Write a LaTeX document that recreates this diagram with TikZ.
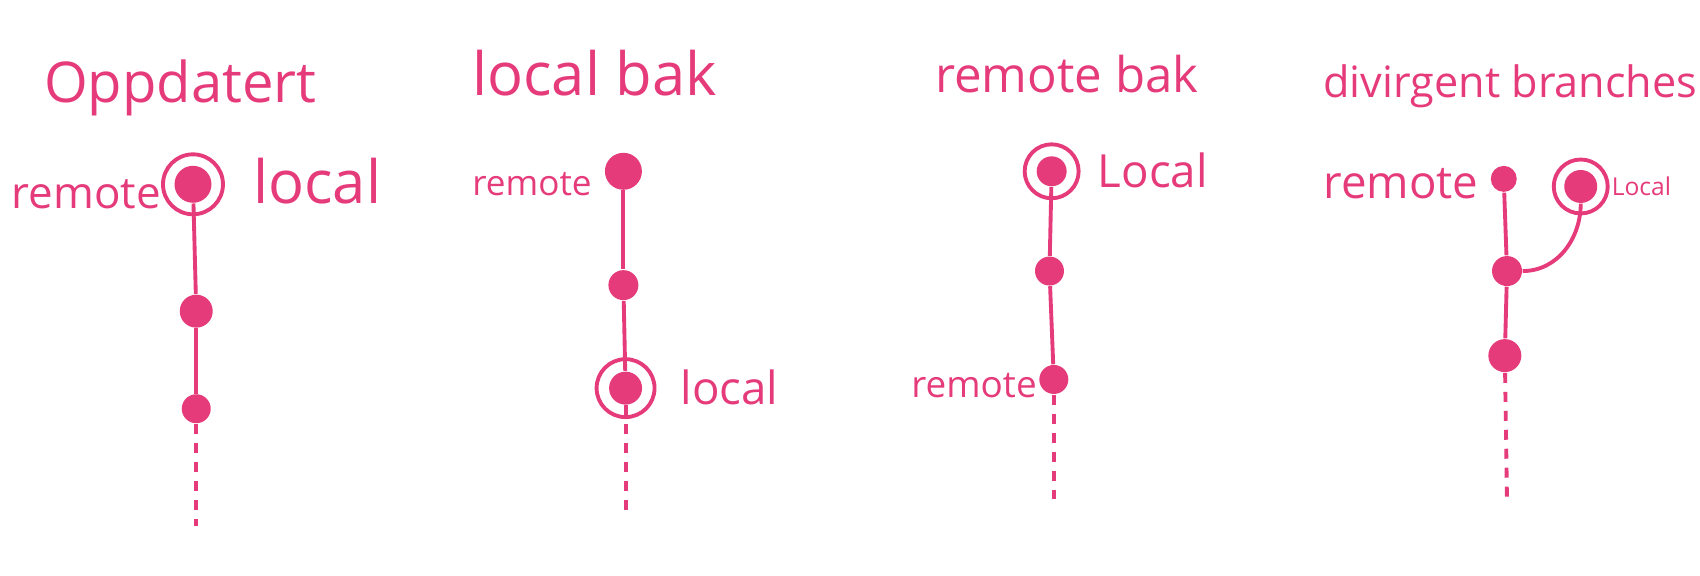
\documentclass[tikz,border=0pt]{standalone}
\usepackage{fontspec}
\setmainfont{Open Sans}
\usepackage{xcolor}
\usepackage{tikz}
\usetikzlibrary{arrows.meta, positioning}

\definecolor{inkpink}{RGB}{230,59,122}

\begin{document}
\begin{tikzpicture}[
    x=0.010842cm, y=-0.010842cm,
    commit/.style={
        circle,
        fill=inkpink,
        inner sep=0pt,
        minimum size=0.33cm
    },
    headring/.style={
        circle,
        draw=inkpink,
        line width=1.1pt,
        inner sep=0pt,
        minimum size=0.6cm
    },
    title/.style={
        anchor=base west,
        text=inkpink,
        inner sep=0pt,
        font=\fontsize{16}{19}\selectfont
    },
    tag/.style={
        anchor=base west,
        text=inkpink,
        inner sep=0pt,
        font=\fontsize{13}{15}\selectfont
    },
    link/.style={draw=inkpink, line width=1.1pt},
    tail/.style={draw=inkpink, line width=1.1pt, dash pattern=on 0.1cm off 0.09cm}
]

\useasboundingbox (0,0) rectangle (1568,531);

% --- Oppdatert ---
\node[title] (t1) at (40,95) {Oppdatert};
\node[commit, minimum size=0.37cm] (a1) at (178,170) {};
\node[headring] (a1ring) at (178,170) {};
\node[commit] (a2) at (181,287) {};
\node[commit, minimum size=0.29cm] (a3) at (181,377) {};
\coordinate (a4) at (181,485);
\node[tag, font=\fontsize{12.5}{15}\selectfont] (a1r) at (10,192) {remote};
\node[tag, font=\fontsize{17}{19}\selectfont] (a1l) at (233,188) {local};

\draw[link] (a1) -- (a2);
\draw[link] (a2) -- (a3);
\draw[tail] (a3) -- (a4);

% --- local bak ---
\node[title, font=\fontsize{17}{20}\selectfont] (t2) at (435,88) {local bak};
\node[commit, minimum size=0.37cm] (b1) at (575,158) {};
\node[commit, minimum size=0.3cm] (b2) at (575,263) {};
\node[commit] (b3) at (577,358) {};
\node[headring, minimum size=0.58cm] (b3ring) at (577,358) {};
\coordinate (b4) at (577,472);
\node[tag, font=\fontsize{10}{12}\selectfont] (b1r) at (435,180) {remote};
\node[tag] (b3l) at (627,373) {local};

\draw[link] (b1) -- (b2);
\draw[link] (b2) -- (b3);
\draw[tail] (b3) -- (b4);

% --- remote bak ---
\node[title, font=\fontsize{14}{17}\selectfont] (t3) at (862,85) {remote bak};
\node[commit, minimum size=0.3cm] (c1) at (970,158) {};
\node[headring, minimum size=0.54cm] (c1ring) at (970,158) {};
\node[commit, minimum size=0.29cm] (c2) at (968,250) {};
\node[commit, minimum size=0.29cm] (c3) at (972,350) {};
\coordinate (c4) at (972,460);
\node[tag] (c1l) at (1012,173) {Local};
\node[tag, font=\fontsize{10.5}{13}\selectfont] (c3r) at (840,367) {remote};

\draw[link] (c1) -- (c2);
\draw[link] (c2) -- (c3);
\draw[tail] (c3) -- (c4);

% --- divirgent branches ---
\node[title, font=\fontsize{12.3}{15}\selectfont] (t4) at (1220,90) {divirgent branches};
\node[commit, minimum size=0.26cm] (d1) at (1387,165) {};
\node[commit] (dl) at (1458,172) {};
\node[headring, minimum size=0.54cm] (dlring) at (1458,172) {};
\node[commit, minimum size=0.3cm] (d2) at (1390,250) {};
\node[commit] (d3) at (1388,328) {};
\coordinate (d4) at (1390,463);
\node[tag] (d1r) at (1220,183) {remote};
\node[tag, font=\fontsize{7}{8}\selectfont] (dll) at (1486,180) {Local};

\draw[link] (d1) -- (d2);
\draw[link] (dl.south) to[out=-90, in=0] (d2.east);
\draw[link] (d2) -- (d3);
\draw[tail] (d3) -- (d4);

\end{tikzpicture}
\end{document}
